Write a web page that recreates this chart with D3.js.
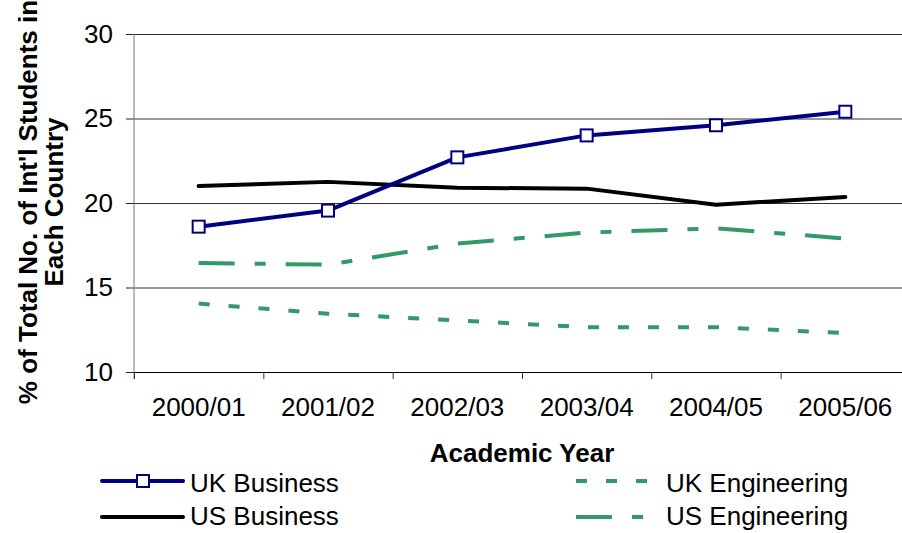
<!DOCTYPE html>
<html>
<head>
<meta charset="utf-8">
<script src="https://cdn.jsdelivr.net/npm/d3@7"></script>
<style>
  body { margin: 0; background: #fff; }
  svg { display: block; }
</style>
</head>
<body>
<div id="vis"></div>
<script>
const years = ['2000/01', '2001/02', '2002/03', '2003/04', '2004/05', '2005/06'];
const ukBusiness = [18.6, 19.55, 22.7, 24.0, 24.6, 25.4];
const usBusiness = [21.0, 21.25, 20.9, 20.85, 19.9, 20.35];
const ukEngineering = [14.05, 13.45, 13.05, 12.65, 12.65, 12.3];
const usEngineering = [16.45, 16.35, 17.6, 18.25, 18.5, 17.9];
const yTicks = [10, 15, 20, 25, 30];

const font = 'Arial, "Liberation Sans", Helvetica, sans-serif';
const green = '#339966';
const navy = '#000080';

var svg = d3.select('#vis').append('svg')
    .attr('width', 902).attr('height', 533);

const plotLeft = 134, plotRight = 910, plotTop = 34, plotBottom = 372;

var x = d3.scaleBand().domain(years).range([plotLeft, plotRight]).padding(0);
var xEdge = d3.scaleLinear().domain([0, years.length]).range([plotLeft, plotRight]);
var y = d3.scaleLinear().domain([10, 30]).range([plotBottom, plotTop]);
const cx = d => x(d) + x.bandwidth() / 2;

// gridlines + y labels
var yAxis = svg.append('g')
    .attr('transform', `translate(${plotLeft},0)`)
    .call(d3.axisLeft(y).tickValues(yTicks).tickSize(8).tickPadding(13));
yAxis.select('.domain').remove();
yAxis.selectAll('.tick line').attr('stroke', '#222');
yAxis.selectAll('.tick').append('line')
    .attr('x1', 0).attr('x2', plotRight - plotLeft)
    .attr('stroke', '#333').attr('stroke-width', 1);
yAxis.selectAll('text')
    .style('font-family', font).style('font-size', '26px').attr('fill', '#000');

// y axis line
svg.append('line')
    .attr('x1', plotLeft).attr('x2', plotLeft)
    .attr('y1', plotTop).attr('y2', plotBottom + 7)
    .attr('stroke', '#777').attr('stroke-width', 1);

// x axis: boundary ticks
var xTickAxis = svg.append('g')
    .attr('transform', `translate(0,${plotBottom})`)
    .call(d3.axisBottom(xEdge).tickValues(d3.range(years.length + 1)).tickSize(7).tickFormat(''));
xTickAxis.select('.domain').attr('stroke', '#000');
xTickAxis.selectAll('.tick line').attr('stroke', '#333');

// x labels
var xAxis = svg.append('g')
    .attr('transform', `translate(0,${plotBottom})`)
    .call(d3.axisBottom(x).tickSize(0).tickPadding(26));
xAxis.select('.domain').remove();
xAxis.selectAll('text')
    .style('font-family', font).style('font-size', '26px').attr('fill', '#000');

// titles
svg.append('text')
    .attr('x', 522).attr('y', 462)
    .attr('text-anchor', 'middle')
    .style('font-family', font).style('font-size', '26px').style('font-weight', 'bold')
    .text('Academic Year');

var yt = svg.append('text')
    .attr('transform', 'translate(37,202) rotate(-90)')
    .attr('text-anchor', 'middle')
    .style('font-family', font).style('font-size', '26px').style('font-weight', 'bold');
yt.append('tspan').attr('x', 0).attr('y', 0).text("% of Total No. of Int'l Students in");
yt.append('tspan').attr('x', 0).attr('y', 26).text('Each Country');

const series = [
    { name: 'US Engineering', values: usEngineering, color: green, dash: '36,20,11,20' },
    { name: 'UK Engineering', values: ukEngineering, color: green, dash: '11,19' },
    { name: 'US Business', values: usBusiness, color: '#000', dash: null },
    { name: 'UK Business', values: ukBusiness, color: navy, dash: null, marker: true }
];

var line = d3.line()
    .x((d, i) => cx(years[i]))
    .y(d => y(d));

series.forEach(s => {
    svg.append('path')
        .attr('d', line(s.values))
        .attr('fill', 'none')
        .attr('stroke', s.color)
        .attr('stroke-width', 4)
        .attr('stroke-linejoin', 'round')
        .attr('stroke-linecap', s.dash ? 'butt' : 'round')
        .attr('stroke-dasharray', s.dash);
    if (s.marker) {
        svg.selectAll(null).data(s.values).enter().append('rect')
            .attr('x', (d, i) => cx(years[i]) - 6)
            .attr('y', d => y(d) - 6)
            .attr('width', 12).attr('height', 12)
            .attr('fill', '#fff')
            .attr('stroke', navy).attr('stroke-width', 2);
    }
});

// legend
const legendItems = [
    { name: 'UK Business', color: navy, dash: null, marker: true, x: 102, y: 481, ty: 11 },
    { name: 'US Business', color: '#000', dash: null, x: 102, y: 517, ty: 8 },
    { name: 'UK Engineering', color: green, dash: '11,19', x: 576, y: 481, ty: 11 },
    { name: 'US Engineering', color: green, dash: '36,20,11,20', x: 576, y: 517, ty: 8 }
];
legendItems.forEach(d => {
    var g = svg.append('g').attr('transform', `translate(${d.x},${d.y})`);
    g.append('line')
        .attr('x1', 0).attr('x2', d.dash ? 71 : 81)
        .attr('stroke', d.color).attr('stroke-width', 4)
        .attr('stroke-linecap', d.dash ? 'butt' : 'round')
        .attr('stroke-dasharray', d.dash);
    if (d.marker) {
        g.append('rect').attr('x', 35).attr('y', -6).attr('width', 12).attr('height', 12)
            .attr('fill', '#fff').attr('stroke', navy).attr('stroke-width', 2);
    }
    g.append('text')
        .attr('x', d.dash ? 90 : 88).attr('y', d.ty)
        .style('font-family', font).style('font-size', '26px')
        .text(d.name);
});
</script>
</body>
</html>
